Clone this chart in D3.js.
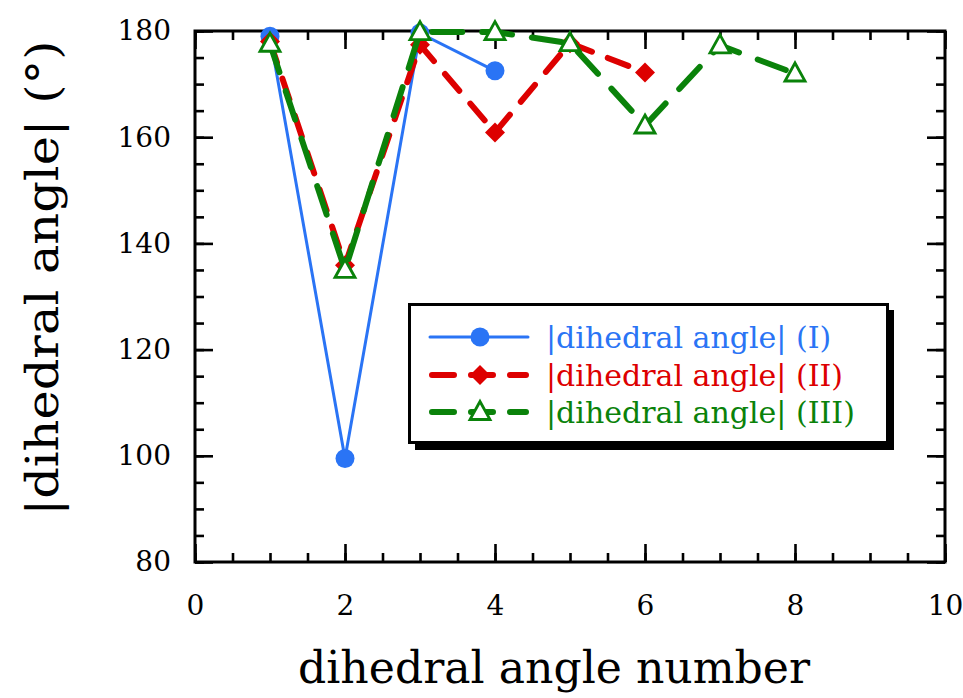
<!DOCTYPE html>
<html><head><meta charset="utf-8">
<script src="https://cdn.jsdelivr.net/npm/d3@7"></script>
<style>
html,body{margin:0;padding:0;background:#fff;}
svg{display:block;}
text{font-family:"DejaVu Serif",serif;}
</style></head>
<body>
<svg id="chart" width="963" height="698"></svg>
<script>
const xTicks = [0, 2, 4, 6, 8, 10];
const yTicks = [80, 100, 120, 140, 160, 180];
const seriesNames = ["|dihedral angle| (I)", "|dihedral angle| (II)", "|dihedral angle| (III)"];
const xI = [1, 2, 3, 4];
const yI = [179.0, 99.5, 179.6, 172.5];
const xII = [1, 2, 3, 4, 5, 6];
const yII = [178.0, 135.9, 177.4, 160.9, 177.7, 172.2];
const xIII = [1, 2, 3, 4, 5, 6, 7, 8];
const yIII = [177.6, 135.0, 179.8, 179.8, 177.7, 162.2, 177.3, 172.0];
const xLabel = "dihedral angle number";
const yLabel = "|dihedral angle| (°)";

const colors = ["#2a74f5", "#dd0000", "#0a820a"];
const svg = d3.select("#chart");
const L = 195, R = 945, T = 31, B = 562;
const x = d3.scaleLinear().domain([0, 10]).range([L, R]);
const y = d3.scaleLinear().domain([80, 180]).range([B, T]);

const minorX = d3.range(0, 10.01, 0.5);
const minorY = d3.range(80, 180.01, 5);

function styleAxis(g){
  g.selectAll("path.domain").remove();
  g.selectAll("line").attr("stroke","#000").attr("stroke-width",2.6);
}
svg.append("g").attr("transform",`translate(0,${B})`).call(d3.axisBottom(x).tickValues(minorX).tickSize(-9).tickSizeOuter(0).tickFormat("")).call(styleAxis);
svg.append("g").attr("transform",`translate(0,${T})`).call(d3.axisTop(x).tickValues(minorX).tickSize(-9).tickSizeOuter(0).tickFormat("")).call(styleAxis);
svg.append("g").attr("transform",`translate(${L},0)`).call(d3.axisLeft(y).tickValues(minorY).tickSize(-9).tickSizeOuter(0).tickFormat("")).call(styleAxis);
svg.append("g").attr("transform",`translate(${R},0)`).call(d3.axisRight(y).tickValues(minorY).tickSize(-9).tickSizeOuter(0).tickFormat("")).call(styleAxis);
const gb = svg.append("g").attr("transform",`translate(0,${B})`).call(d3.axisBottom(x).tickValues(xTicks).tickSize(-18).tickSizeOuter(0).tickPadding(33).tickFormat(d3.format("d"))).call(styleAxis);
svg.append("g").attr("transform",`translate(0,${T})`).call(d3.axisTop(x).tickValues(xTicks).tickSize(-18).tickSizeOuter(0).tickFormat("")).call(styleAxis);
const gl = svg.append("g").attr("transform",`translate(${L},0)`).call(d3.axisLeft(y).tickValues(yTicks).tickSize(-18).tickSizeOuter(0).tickPadding(24).tickFormat(d3.format("d"))).call(styleAxis);
svg.append("g").attr("transform",`translate(${R},0)`).call(d3.axisRight(y).tickValues(yTicks).tickSize(-18).tickSizeOuter(0).tickFormat("")).call(styleAxis);
[gb, gl].forEach(g => g.selectAll("text").attr("font-family","DejaVu Serif").attr("font-size",28).attr("fill","#000"));

svg.append("rect").attr("x",L).attr("y",T).attr("width",R-L).attr("height",B-T)
  .attr("fill","none").attr("stroke","#000").attr("stroke-width",3);

svg.append("text").attr("x",(L+R)/2 - 16).attr("y",683).attr("text-anchor","middle")
  .attr("font-size",44).attr("fill","#000").attr("textLength",512).attr("lengthAdjust","spacingAndGlyphs").text(xLabel);
svg.append("text").attr("transform","translate(58,278) rotate(-90)").attr("text-anchor","middle")
  .attr("font-size",44).attr("fill","#000").attr("textLength",475).attr("lengthAdjust","spacingAndGlyphs").text(yLabel);

const series = [
  {xs:xI, ys:yI, color:colors[0], width:3, dash:null, marker:"circle"},
  {xs:xII, ys:yII, color:colors[1], width:6, dash:"22,17", marker:"diamond"},
  {xs:xIII, ys:yIII, color:colors[2], width:6, dash:"30,20", marker:"triangle"}
];
const line = d3.line().x(d=>x(d[0])).y(d=>y(d[1]));

function drawMarker(g, type, cx, cy, color){
  if(type==="circle"){
    g.append("circle").attr("cx",cx).attr("cy",cy).attr("r",9.5).attr("fill",color);
  } else if(type==="diamond"){
    g.append("path").attr("d","M0,-10L10,0L0,10L-10,0Z").attr("transform",`translate(${cx},${cy})`).attr("fill",color);
  } else {
    g.append("path").attr("d",`M0,-10.5L10,7.5L-10,7.5Z`).attr("transform",`translate(${cx},${cy})`)
      .attr("fill","#fff").attr("stroke",color).attr("stroke-width",2.8).attr("stroke-linejoin","miter");
  }
}

series.forEach(s=>{
  const pts = s.xs.map((v,i)=>[v, s.ys[i]]);
  const g = svg.append("g");
  g.append("path").attr("d",line(pts)).attr("fill","none").attr("stroke",s.color)
    .attr("stroke-width",s.width).attr("stroke-dasharray",s.dash).attr("stroke-linecap","round");
  pts.forEach(p=>drawMarker(g, s.marker, x(p[0]), y(p[1]), s.color));
});

const lg = svg.append("g");
lg.append("rect").attr("x",415).attr("y",310).attr("width",479).attr("height",140).attr("fill","#000");
lg.append("rect").attr("x",409.5).attr("y",304.5).attr("width",478).attr("height",138).attr("fill","#fff").attr("stroke","#000").attr("stroke-width",3);
const rowsY = [337, 375, 412];
series.forEach((s,i)=>{
  const yy = rowsY[i];
  lg.append("line").attr("x1",s.dash?432:430).attr("x2",s.dash?526:528).attr("y1",yy).attr("y2",yy)
    .attr("stroke",s.color).attr("stroke-width",s.width).attr("stroke-dasharray",s.dash?"22,17":null).attr("stroke-linecap","round");
  drawMarker(lg, s.marker, 480, yy, s.color);
  lg.append("text").attr("x",546).attr("y",yy).attr("dy","0.35em").attr("font-size",30)
    .attr("fill",s.color).text(seriesNames[i]);
});
</script>
</body></html>
